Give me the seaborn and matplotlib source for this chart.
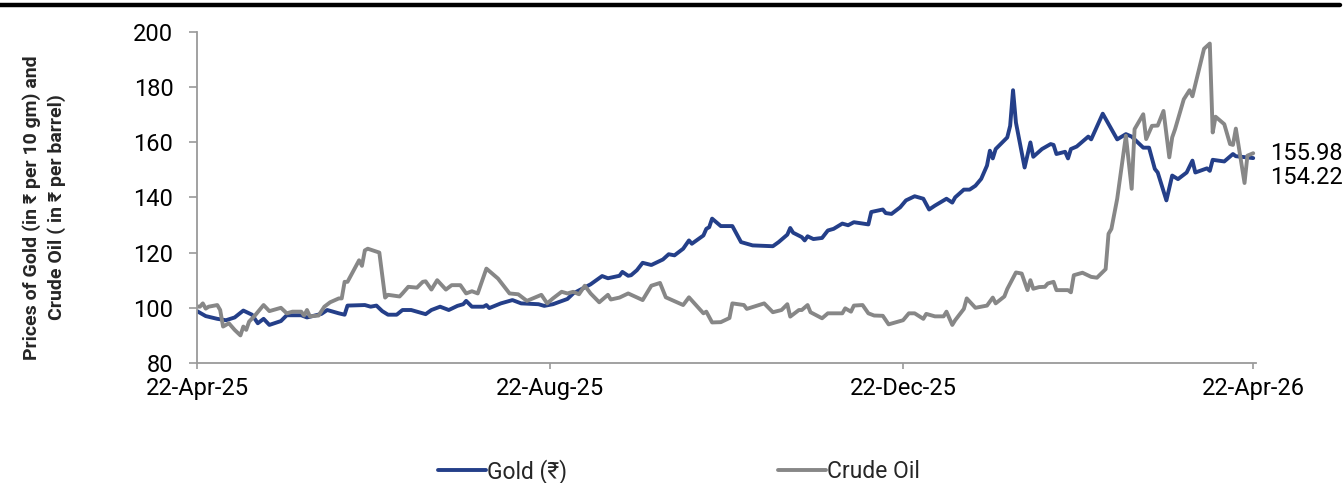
import matplotlib
matplotlib.use("Agg")
import matplotlib.pyplot as plt
import matplotlib.dates as mdates
import matplotlib.transforms as mtransforms
from matplotlib.lines import Line2D
import numpy as np
import pandas as pd
import seaborn as sns

start_date = "2025-04-22"
tick_dates = ["2025-04-22", "2025-08-22", "2025-12-22", "2026-04-22"]
y_ticks = [80, 100, 120, 140, 160, 180, 200]

# days elapsed since 22-Apr-25
gold_day = [0, 3, 7, 10, 13, 16, 19, 21, 23, 25, 29, 31, 36, 38, 43, 45, 49, 51, 52, 58,
            60, 62, 64, 66, 69, 71, 74, 77, 79, 81, 84, 87, 90, 92, 93, 95, 99, 100, 101, 105,
            109, 112, 118, 120, 123, 128, 130, 136, 140, 142, 146, 147, 149, 150, 152, 154, 157, 161, 163, 165,
            168, 170, 171, 175, 176, 177, 178, 181, 185, 188, 192, 199, 201, 204, 205, 206, 209, 210, 211, 213,
            216, 218, 220, 223, 225, 227, 232, 233, 237, 238, 240, 243, 245, 248, 251, 253, 255, 258, 259, 261,
            262, 265, 267, 269, 271, 273, 274, 275, 276, 280, 281, 282, 283, 286, 288, 289, 292, 295, 296, 297,
            300, 301, 302, 304, 308, 309, 313, 318, 321, 323, 327, 329, 331, 332, 335, 337, 339, 342, 344, 345,
            349, 350, 351, 355, 358, 359, 365]
gold_val = [98.8, 97, 96, 95.5, 96.5, 99, 97.5, 94.4, 96, 93.8, 95.2, 97.3, 97.3, 96.5, 97.8, 99.2, 98, 97.5, 100.8, 101,
            100.4, 100.8, 98.8, 97.5, 97.5, 99.2, 99.2, 98.3, 97.7, 99.2, 100.4, 99.2, 100.7, 101.3, 102.5, 100.4, 100.4, 101, 99.9, 101.6,
            102.8, 101.6, 101.3, 100.7, 101.3, 103.2, 105.2, 108.5, 111.5, 110.7, 111.6, 113, 111.6, 111.8, 113.6, 116.3, 115.5, 117.5, 119.4, 119,
            121.4, 124.4, 123.2, 126.2, 128.6, 129.2, 132.3, 129.6, 129.6, 123.8, 122.6, 122.3, 123.8, 126.5, 128.9, 127.2, 125.6, 124.4, 125.9, 124.9,
            125.3, 128, 128.6, 130.5, 129.9, 131, 130.2, 134.7, 135.6, 134.3, 134, 136.4, 138.9, 140.4, 139.5, 135.6, 137, 138.9, 139.5, 138.1,
            140, 142.8, 142.8, 144.2, 146.7, 151.5, 156.9, 154.1, 157.5, 161.7, 165.9, 178.8, 167.1, 150.8, 159.9, 154.7, 157.5, 159.3, 159, 155.7,
            156.5, 154.1, 157.5, 158.4, 162, 161, 170.3, 161, 162.9, 162, 158, 158, 150.3, 149, 138.9, 147.9, 146.6, 149, 153.3, 149,
            150.5, 149.6, 153.6, 153, 155.7, 154.9, 154.22]

oil_day = [0, 1, 2, 3, 4, 7, 8, 9, 11, 13, 15, 16, 17, 18, 20, 23, 25, 29, 31, 33,
           36, 37, 38, 39, 42, 44, 46, 49, 50, 51, 52, 56, 57, 58, 59, 63, 65, 66, 70, 71,
           73, 76, 78, 79, 81, 83, 86, 88, 91, 93, 95, 97, 100, 104, 108, 111, 114, 119, 121, 123,
           126, 128, 130, 132, 134, 136, 139, 142, 143, 146, 149, 154, 157, 160, 162, 168, 170, 175, 176, 178,
           181, 184, 185, 189, 190, 196, 199, 202, 204, 205, 208, 209, 211, 212, 216, 218, 220, 223, 224, 226,
           227, 230, 232, 234, 237, 239, 243, 244, 246, 248, 251, 252, 255, 258, 259, 261, 262, 265, 266, 269,
           273, 275, 276, 279, 280, 283, 285, 287, 288, 289, 291, 293, 294, 296, 297, 301, 302, 303, 306, 309,
           311, 314, 315, 316, 318, 321, 323, 324, 327, 328, 330, 332, 334, 336, 337, 338, 341, 343, 344, 348,
           350, 351, 352, 355, 357, 358, 359, 362, 363, 365]
oil_val = [100.5, 100.4, 101.6, 99.7, 100.4, 101, 99.2, 93.2, 94.4, 92, 90, 93.2, 92, 95, 97.2, 101, 98.8, 100, 98, 98.6,
           98.6, 97.2, 99.2, 96.9, 97.2, 100.4, 102, 103.4, 103.4, 109.4, 109.4, 117.2, 115.2, 120.8, 121.4, 120, 103.7, 104.7, 104.1, 105.2,
           107.6, 107.3, 109.4, 109.6, 106.6, 110, 106.6, 108.2, 108.2, 105.2, 106, 105.2, 114.2, 110.6, 105.2, 104.9, 102.5, 104.7, 101.6, 103.4,
           105.8, 105.2, 105.8, 104.9, 108, 105.2, 102, 104.7, 103, 103.7, 105.2, 102.8, 108, 109, 103.8, 101, 103.8, 98, 98.6, 94.7,
           94.8, 96.3, 101.6, 101, 99.6, 101.6, 98.4, 99.2, 101.3, 96.8, 99.2, 99.2, 101, 98.4, 96.2, 98, 98, 98, 99.8, 98.6,
           100.8, 101, 98, 97.2, 97.1, 94, 95.2, 95.5, 98, 98, 96, 97.8, 96.9, 96.9, 98.6, 93.8, 95.5, 99.6, 103.4, 100,
           100.8, 103.7, 101.6, 104.1, 106.8, 112.8, 112.4, 106.4, 110, 106.9, 107.5, 107.6, 108.8, 109.4, 106.4, 106.4, 105.6, 111.8, 112.7, 111.2,
           110.9, 114, 126.8, 128.6, 139.5, 162.3, 143.1, 164.7, 170.1, 161.1, 165.9, 166, 171.3, 154.5, 161.7, 164.7, 175.5, 178.8, 176.6, 193.8,
           195.7, 163.5, 169.2, 166.5, 159.3, 159, 164.9, 145.2, 155.1, 155.98]

series_names = ["Gold (\u20b9)", "Crude Oil"]
y_label = "Prices of Gold (in \u20b9 per 10 gm) and\nCrude Oil ( in \u20b9 per barrel)"

GOLD_COLOR = "#243F89"
OIL_COLOR = "#878787"

t0 = pd.Timestamp(start_date)
gold_df = pd.DataFrame({"date": t0 + pd.to_timedelta(gold_day, unit="D"), "value": gold_val})
oil_df = pd.DataFrame({"date": t0 + pd.to_timedelta(oil_day, unit="D"), "value": oil_val})

sns.set_theme(style="white")
plt.rcParams["font.family"] = ["Roboto", "DejaVu Sans"]

fig = plt.figure(figsize=(13.44, 4.83), dpi=100)
ax = fig.add_axes([0.1466, 0.2484, 0.788, 0.686])

sns.lineplot(data=gold_df, x="date", y="value", ax=ax, color=GOLD_COLOR, lw=2.8, label=series_names[0])
sns.lineplot(data=oil_df, x="date", y="value", ax=ax, color=OIL_COLOR, lw=2.8, label=series_names[1])

ax.set_ylim(80, 200)
ax.set_yticks(y_ticks)
ax.set_xlim(t0, t0 + pd.Timedelta(days=366))
ax.set_xticks(pd.to_datetime(tick_dates))
ax.xaxis.set_major_formatter(mdates.DateFormatter("%d-%b-%y"))

for side in ["top", "right"]:
    ax.spines[side].set_visible(False)
for side in ["left", "bottom"]:
    ax.spines[side].set_color("#9a9a9a")
    ax.spines[side].set_linewidth(1.3)

ax.tick_params(axis="y", direction="out", length=6, width=1.2, color="#9a9a9a",
               labelsize=17, pad=11, left=True, labelcolor="black")
ax.tick_params(axis="x", direction="out", length=4, width=1.2, color="#9a9a9a",
               labelsize=17, pad=6, bottom=True, labelcolor="black")

ax.set_xlabel("")
ax.set_ylabel(y_label, fontsize=14, fontweight="bold", linespacing=1.45)
ax.yaxis.set_label_coords(-0.1235, 0.47)

# end labels, just right of the plot area
offset = mtransforms.ScaledTranslation(14 / 100, 0, fig.dpi_scale_trans)
lab_tr = mtransforms.blended_transform_factory(ax.transAxes, ax.transData) + offset
ax.text(1.0, oil_val[-1], f"{oil_val[-1]:.2f}", transform=lab_tr, va="center", ha="left",
        fontsize=17, color="black")
ax.text(1.0, gold_val[-1], f"{gold_val[-1]:.2f}",
        transform=lab_tr + mtransforms.ScaledTranslation(0, -19 / 100, fig.dpi_scale_trans),
        va="center", ha="left", fontsize=17, color="black")

ax.legend_.remove()
handles = [Line2D([0], [0], color=GOLD_COLOR, lw=2.8), Line2D([0], [0], color=OIL_COLOR, lw=2.8)]
fig.legend(handles, series_names, loc="center", bbox_to_anchor=(0.505, 0.024), ncol=2,
           frameon=False, fontsize=16.5, handlelength=2.1, handletextpad=0.05, columnspacing=9.2)

fig.add_artist(Line2D([0, 0.997], [0.9896, 0.9896], color="black", lw=3.2, transform=fig.transFigure))

fig.savefig("out.png", dpi=100)
